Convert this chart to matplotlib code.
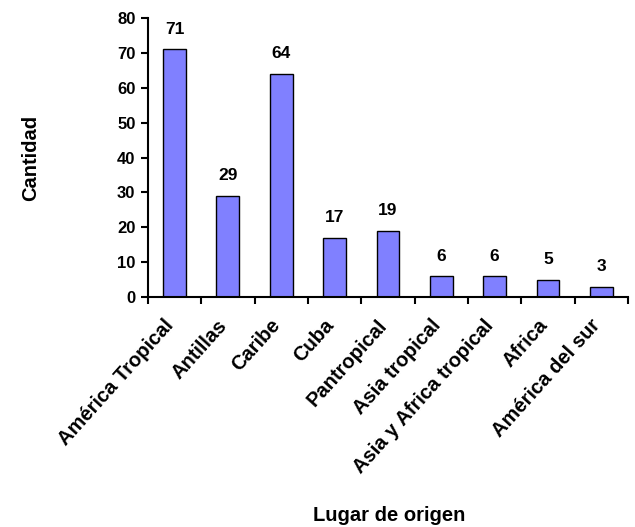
import matplotlib.pyplot as plt
import matplotlib.transforms as mtransforms
import numpy as np

categorias = ["América Tropical", "Antillas", "Caribe", "Cuba", "Pantropical",
              "Asia tropical", "Asia y Africa tropical", "Africa", "América del sur"]
cantidades = [71, 29, 64, 17, 19, 6, 6, 5, 3]
y_ticks = [0, 10, 20, 30, 40, 50, 60, 70, 80]


def main():
    plt.rcParams['font.family'] = ['Liberation Sans', 'DejaVu Sans']
    plt.rcParams['font.weight'] = 'bold'

    fig = plt.figure(figsize=(6.35, 5.27), dpi=100)
    ax = fig.add_axes([0.233, 0.436, 0.756, 0.530])

    x = np.arange(len(categorias))
    ax.bar(x, cantidades, width=0.43, color='#8080FF', edgecolor='black', linewidth=1)

    for xi, v in zip(x, cantidades):
        ax.text(xi, v + 3.6, str(v), ha='center', va='bottom', fontsize=12.5, fontweight='bold')

    ax.set_xlim(-0.5, len(categorias) - 0.5)
    ax.set_ylim(0, 80)
    ax.set_yticks(y_ticks)
    ax.tick_params(axis='y', direction='out', length=5, width=1.5, labelsize=12, pad=4)

    ax.set_xticks(x)
    ax.set_xticklabels(categorias, rotation=48, ha='right', rotation_mode='anchor', fontsize=14.5)
    ax.set_xticks(np.arange(len(categorias) + 1) - 0.5, minor=True)
    ax.tick_params(axis='x', which='major', length=0, pad=12)
    ax.tick_params(axis='x', which='minor', direction='out', length=5, width=1.5)

    # shift the rotated labels a bit to the left, like the original
    offset = mtransforms.ScaledTranslation(-11 / 100, -2 / 100, fig.dpi_scale_trans)
    for lbl in ax.get_xticklabels():
        lbl.set_transform(lbl.get_transform() + offset)

    for s in ['top', 'right']:
        ax.spines[s].set_visible(False)
    for s in ['left', 'bottom']:
        ax.spines[s].set_linewidth(1.5)

    fig.text(0.048, 0.70, "Cantidad", rotation=90, ha='center', va='center',
             fontsize=14.5, fontweight='bold')
    fig.text(0.613, 0.021, "Lugar de origen", ha='center', va='center',
             fontsize=14.5, fontweight='bold')

    fig.savefig("out.png", dpi=100)


if __name__ == "__main__":
    main()
